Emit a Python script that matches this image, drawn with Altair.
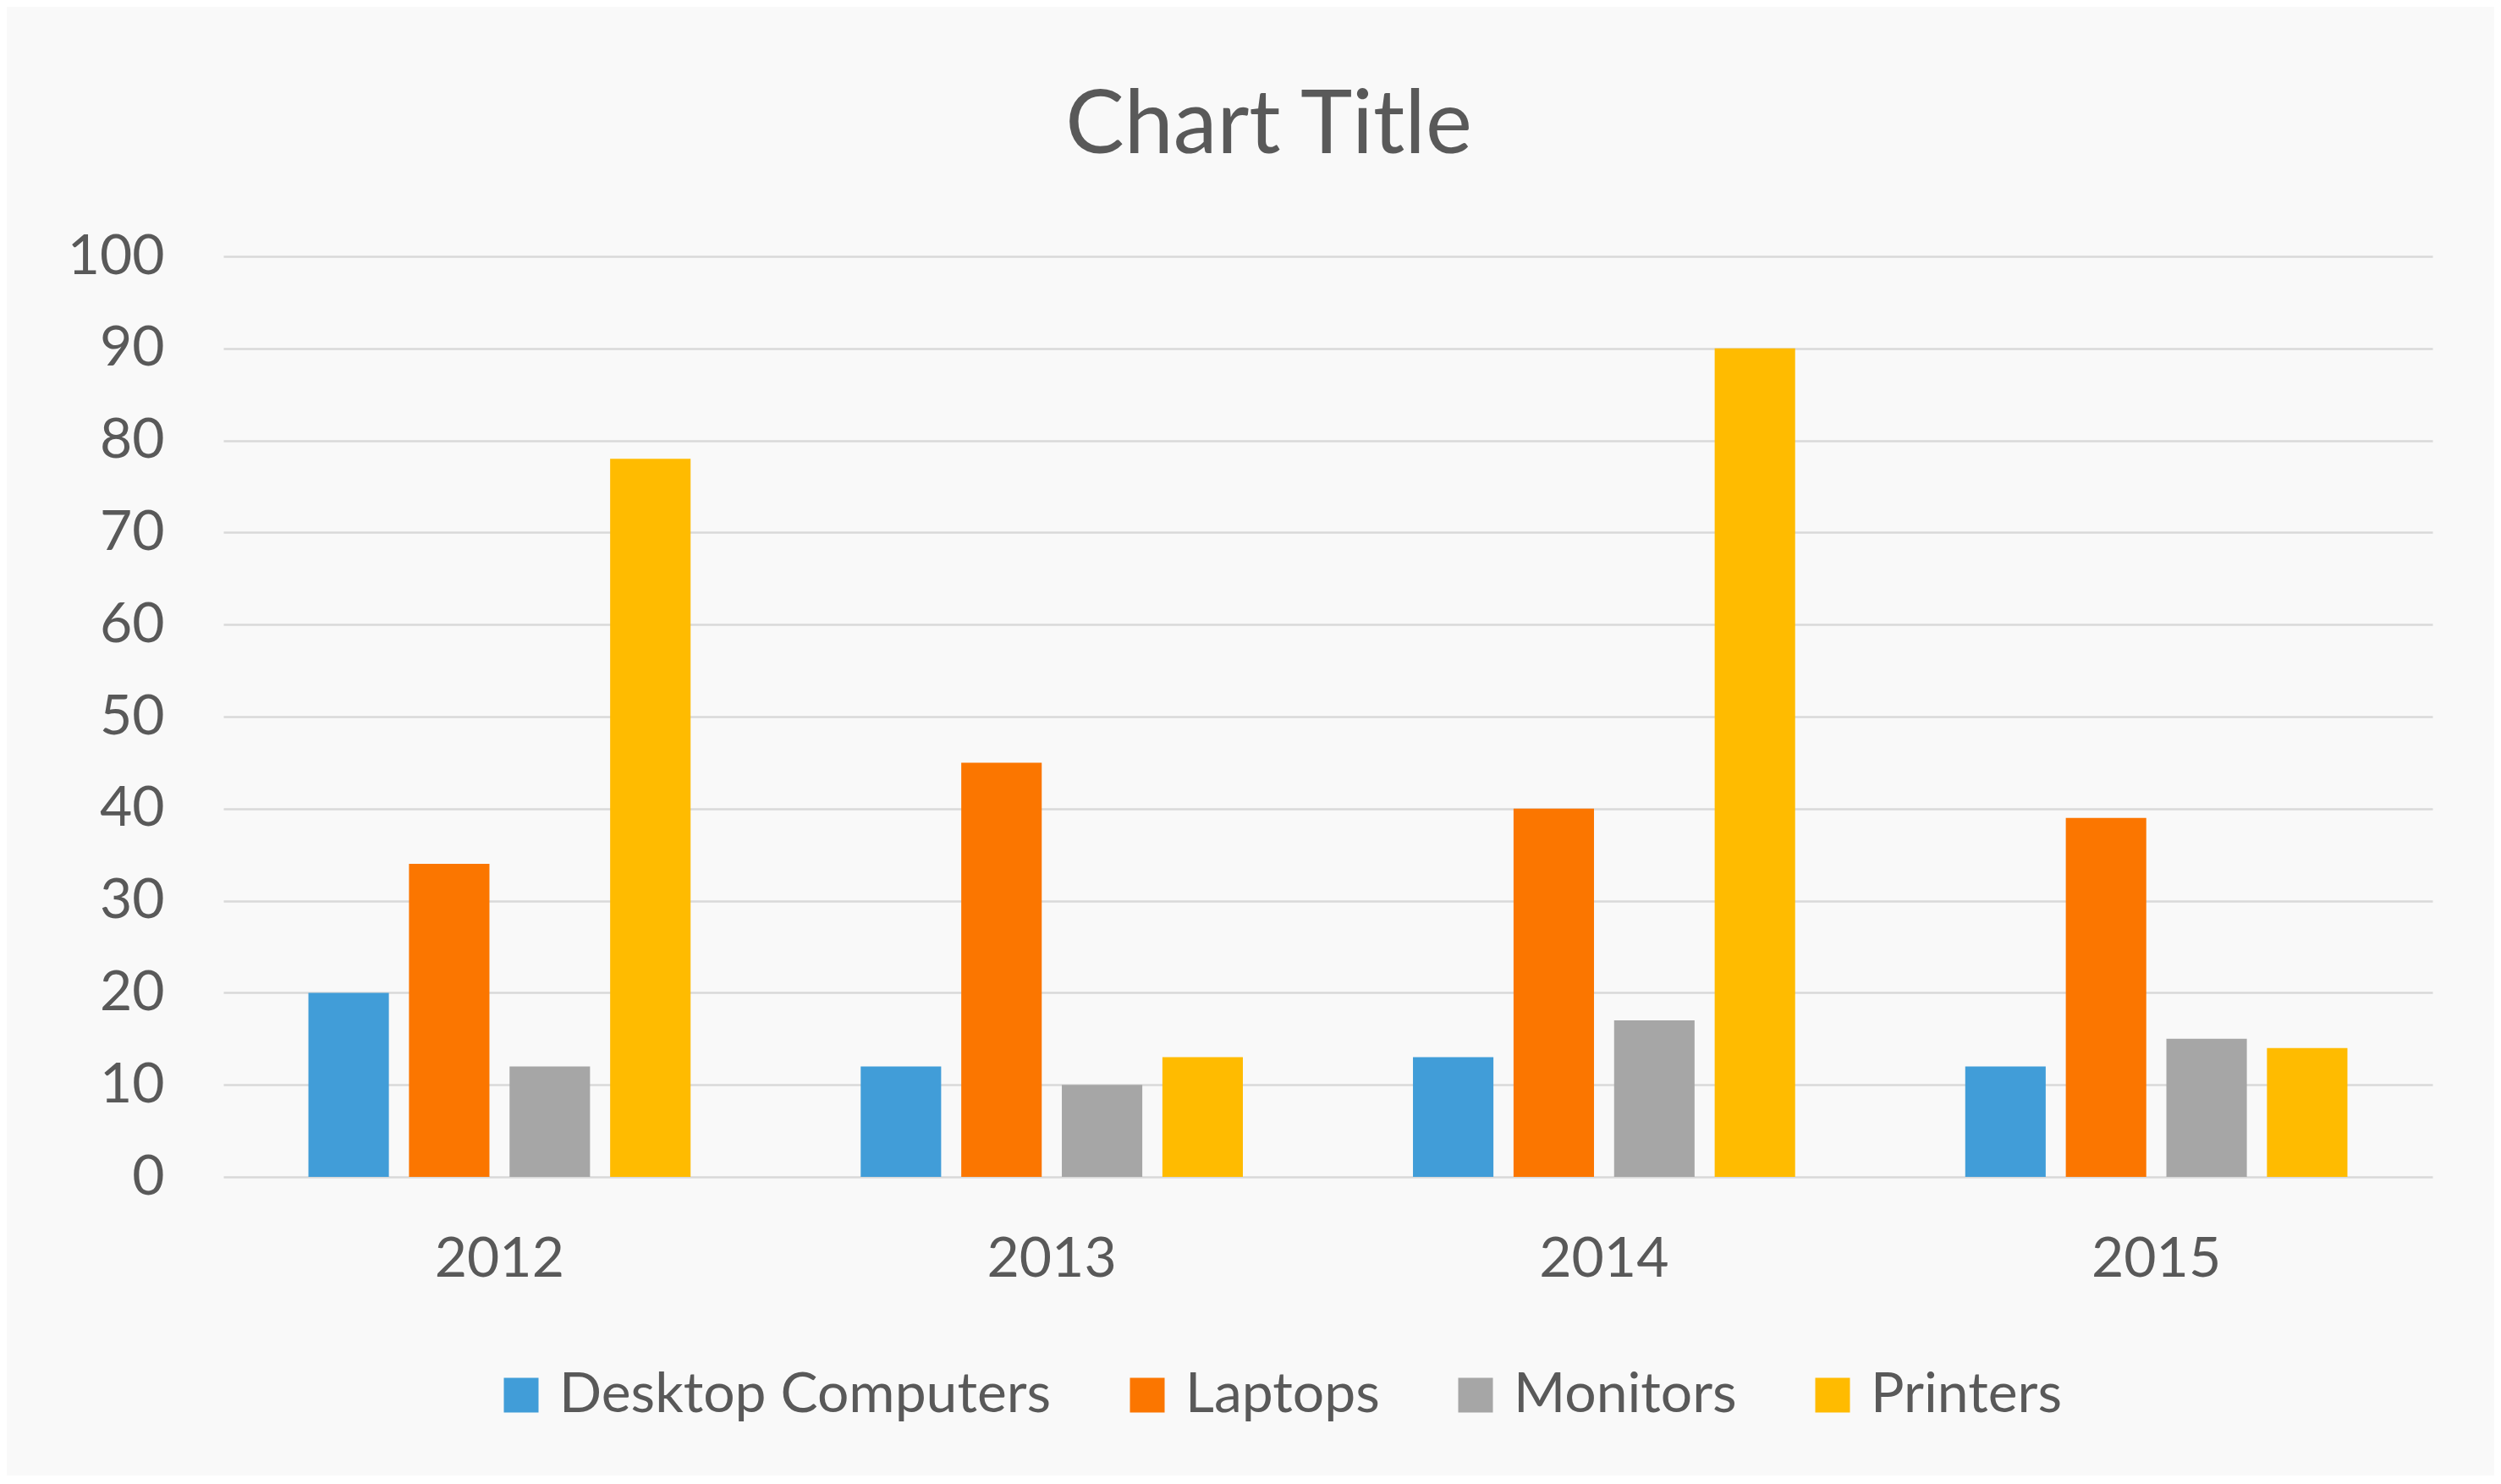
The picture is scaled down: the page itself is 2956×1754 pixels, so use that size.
import altair as alt
import pandas as pd

years = ["2012", "2013", "2014", "2015"]
series = ["Desktop Computers", "Laptops", "Monitors", "Printers"]
desktop = [20, 12, 13, 12]
laptops = [34, 45, 40, 39]
monitors = [12, 10, 17, 15]
printers = [78, 13, 90, 14]
colors = ["#419dd8", "#fb7600", "#a6a6a6", "#ffbb00"]
y_ticks = [0, 10, 20, 30, 40, 50, 60, 70, 80, 90, 100]

rows = []
for s, vals in zip(series, [desktop, laptops, monitors, printers]):
    for yr, v in zip(years, vals):
        rows.append({"year": yr, "series": s, "value": v})
df = pd.DataFrame(rows)

FONT = "Lato"
TXT = "#595959"

chart = alt.Chart(df).mark_bar().encode(
    x=alt.X("year:N", sort=years,
            scale=alt.Scale(paddingInner=0.308, paddingOuter=0.154),
            axis=alt.Axis(title=None, labelAngle=0, labelFontSize=66, labelFont=FONT,
                          labelColor=TXT, labelPadding=65, domain=False, ticks=False)),
    xOffset=alt.XOffset("series:N", sort=series,
                        scale=alt.Scale(paddingInner=0.2, paddingOuter=0)),
    y=alt.Y("value:Q", scale=alt.Scale(domain=[0, 100], nice=False),
            axis=alt.Axis(title=None, values=y_ticks, labelFontSize=66, labelFont=FONT,
                          labelColor=TXT, labelPadding=70, domain=False, ticks=False,
                          grid=True, gridColor="#d9d9d9", gridWidth=2.5)),
    color=alt.Color("series:N", sort=series,
                    scale=alt.Scale(domain=series, range=colors),
                    legend=alt.Legend(title=None, orient="none", legendX=319, legendY=1313,
                                      direction="horizontal", symbolType="square",
                                      symbolSize=1681, symbolStrokeWidth=0,
                                      labelFontSize=66, labelFont=FONT, labelColor=TXT,
                                      labelLimit=0, labelOffset=12, columnPadding=80,
                                      padding=0)),
).properties(
    width=2611,
    height=1088,
    title=alt.TitleParams("Chart Title", fontSize=104, font=FONT, color=TXT,
                          fontWeight="normal", anchor="middle", offset=67, dx=-70),
    padding={"left": 256, "top": 295, "right": 73, "bottom": 353},
    autosize="none",
    background="#f9f9f9",
).configure_view(stroke=None)

chart.save("out.html", embed_options={"renderer": "svg", "actions": False})
